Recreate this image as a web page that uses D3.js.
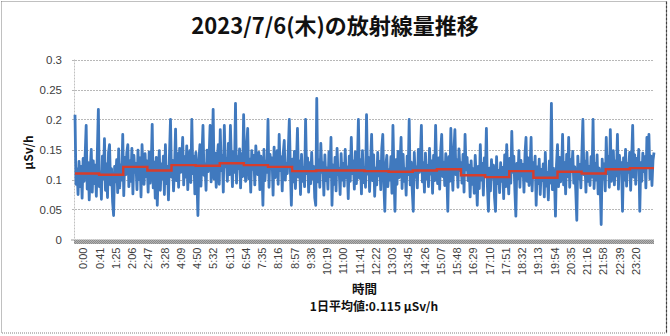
<!DOCTYPE html>
<html><head><meta charset="utf-8">
<script src="https://cdn.jsdelivr.net/npm/d3@7"></script>
<style>
html,body{margin:0;padding:0;background:#fff;}
svg{display:block;}
</style></head>
<body>
<script>
// ---- data ----
const title = "2023/7/6(木)の放射線量推移";
const yTicks = [0, 0.05, 0.1, 0.15, 0.2, 0.25, 0.3];
const tickLabels = ["0:00","0:41","1:25","2:06","2:47","3:28","4:09","4:50","5:32","6:13","6:54","7:35","8:16","8:57","9:38","10:19","11:00","11:41","12:22","13:03","13:45","14:26","15:07","15:48","16:29","17:10","17:51","18:32","19:13","19:54","20:35","21:16","21:58","22:39","23:20"];
const labelEvery = 16;
// readings (x 0.001 µSv/h), ~2.5 min apart
const readings = [
208,92,118,75,130,88,122,69,135,97,
141,190,84,128,66,117,150,79,131,93,
124,72,146,217,88,113,67,139,101,168,
82,126,70,145,158,91,118,63,40,122,
96,133,78,151,86,124,99,175,73,137,
108,145,158,88,131,97,152,76,140,112,
127,83,149,100,136,71,158,118,92,143,
105,131,79,146,94,120,192,86,129,69,
137,57,115,148,82,126,101,139,75,158,
93,122,66,141,200,104,132,81,119,184,
98,143,87,152,112,129,170,91,138,104,
156,83,127,148,95,200,110,139,76,145,
102,40,133,158,89,141,190,107,126,82,
149,113,137,190,96,128,217,101,144,87,
132,158,92,183,115,140,79,190,121,135,
97,160,108,190,129,88,147,112,227,94,
138,118,151,86,143,105,208,124,97,155,
185,101,134,79,148,117,140,91,156,126,
108,145,83,139,121,57,150,98,131,112,
200,87,142,119,136,74,154,103,129,148,
92,175,115,138,81,144,165,99,127,110,
150,200,118,57,134,96,147,85,126,185,
104,131,75,142,97,119,88,200,110,136,
79,128,93,145,101,122,70,57,235,96,
133,87,160,112,128,74,141,98,119,84,
146,105,170,57,124,92,137,81,152,108,
118,75,143,99,127,89,150,103,121,68,
139,97,170,110,131,84,146,93,125,200,
102,133,76,148,95,120,87,208,109,137,
80,128,175,98,141,72,119,91,145,106,
130,83,152,175,94,47,124,140,88,116,
99,138,77,190,110,47,133,92,147,103,
126,170,85,142,97,118,74,139,108,200,
91,129,82,47,145,104,121,86,150,112,
135,190,96,128,79,144,101,123,88,152,
109,131,77,140,98,190,117,93,136,84,
148,175,105,129,90,143,112,47,138,97,
185,121,82,146,183,108,133,87,151,115,
128,94,142,79,175,116,137,98,124,71,
131,92,118,77,140,103,57,122,85,158,
99,127,74,136,108,185,89,47,119,81,
133,102,124,70,47,138,93,115,78,128,
97,120,68,141,88,158,109,76,135,94,
180,112,139,83,39,127,101,148,87,132,
106,125,79,143,170,97,136,90,118,170,
81,128,104,139,57,121,93,134,75,117,
98,126,71,145,89,112,66,131,94,227,
83,119,102,39,124,158,88,137,96,110,
175,91,128,76,142,105,170,87,133,113,
147,94,121,80,32,139,101,125,86,143,
200,108,131,79,145,97,122,90,138,104,
200,85,127,99,141,76,119,93,25,134,
102,126,81,170,110,138,87,183,97,122,
148,91,131,106,175,84,140,115,128,47,
136,99,150,89,127,112,145,82,133,190,
104,141,92,135,118,150,47,128,97,144,
113,138,86,170,122,175,101,139,90,132,
145
];
// hourly averages (µSv/h)
const hourlyAvg = [0.110,0.108,0.121,0.115,0.124,0.123,0.127,0.124,0.121,0.114,0.115,0.115,0.114,0.113,0.115,0.117,0.107,0.104,0.114,0.103,0.113,0.110,0.117,0.119];
const yTitle = "μSv/h";
const xTitle = "時間";
const dailyNote = "1日平均値:0.115 μSv/h";

// ---- layout ----
const W = 670, H = 336;
const plot = {l: 75, r: 654, t: 59.5, b: 239.5};
const svg = d3.select("body").append("svg").attr("width", W).attr("height", H);

const defs = svg.append("defs");
const pat = defs.append("pattern").attr("id","floor").attr("width",2).attr("height",2).attr("patternUnits","userSpaceOnUse");
pat.append("rect").attr("width",2).attr("height",2).attr("fill","#b4b4b4");
pat.append("rect").attr("width",1).attr("height",1).attr("fill","#8a8a8a");
pat.append("rect").attr("x",1).attr("y",1).attr("width",1).attr("height",1).attr("fill","#8a8a8a");

// outer border
svg.append("rect").attr("x",1.5).attr("y",1.5).attr("width",665).attr("height",331.5)
  .attr("fill","none").attr("stroke","#808080").attr("stroke-width",1).attr("stroke-dasharray","1,1");
svg.append("line").attr("x1",666.5).attr("x2",666.5).attr("y1",1.5).attr("y2",333)
  .attr("stroke","#404040").attr("stroke-width",1.2).attr("stroke-dasharray","3,1");

const y = d3.scaleLinear().domain([0,0.3]).range([plot.b, plot.t]);
const x = d3.scaleLinear().domain([0, readings.length-1]).range([plot.l, plot.r]);
const xh = d3.scaleLinear().domain([0,24]).range([plot.l, plot.r]);

// gridlines
svg.append("g").selectAll("line").data(yTicks.filter(d=>d>0)).join("line")
  .attr("x1", plot.l-3).attr("x2", plot.r).attr("y1", d=>Math.round(y(d))+0.5).attr("y2", d=>Math.round(y(d))+0.5)
  .attr("stroke","#b8b8b8").attr("stroke-width",1).attr("stroke-dasharray","2,1");
// left axis (dotted)
svg.append("line").attr("x1",plot.l-0.5).attr("x2",plot.l-0.5).attr("y1",plot.t).attr("y2",plot.b)
  .attr("stroke","#c0c0c0").attr("stroke-dasharray","2,1");
// floor
svg.append("rect").attr("x",plot.l-1).attr("y",plot.b).attr("width",plot.r-plot.l+1).attr("height",4.5).attr("fill","url(#floor)");
svg.append("line").attr("x1",plot.l-4).attr("x2",plot.l-1).attr("y1",plot.b+0.5).attr("y2",plot.b+0.5).attr("stroke","#999");

// y tick labels
const yAxis = d3.axisLeft(y).tickValues(yTicks).tickSize(0).tickPadding(0).tickFormat(d=>d3.format("")(+d.toFixed(2)));
const yg = svg.append("g").attr("transform",`translate(${plot.l-13},0)`).call(yAxis);
yg.select(".domain").remove();
yg.selectAll("text").attr("font-family","Liberation Sans, Arial, sans-serif").attr("font-size",11.5).attr("fill","#404040");

// x tick labels (rotated)
const tickIdx = tickLabels.map((_,i)=>i*labelEvery);
const xAxis = d3.axisBottom(x).tickValues(tickIdx).tickSize(0).tickFormat((d,i)=>tickLabels[i]);
const xg = svg.append("g").attr("transform",`translate(8,${plot.b+8})`).call(xAxis);
xg.select(".domain").remove();
xg.selectAll("text").attr("font-family","Liberation Sans, Arial, sans-serif").attr("font-size",11).attr("fill","#404040")
  .attr("transform","rotate(-90)").attr("text-anchor","end").attr("x",0).attr("y",0).attr("dy","0.35em");

// blue readings line
svg.append("path").datum(readings)
  .attr("d", d3.line().x((d,i)=>x(i)).y(d=>y(d/1000)))
  .attr("fill","none").attr("stroke","#4079be").attr("stroke-width",2.8).attr("stroke-linejoin","round");

// red hourly step line
const stepPts = hourlyAvg.map((v,h)=>[h,v]).concat([[24, hourlyAvg[23]]]);
svg.append("path").datum(stepPts)
  .attr("d", d3.line().curve(d3.curveStepAfter).x(d=>xh(d[0])).y(d=>y(d[1])))
  .attr("fill","none").attr("stroke","#d63d2c").attr("stroke-width",2.4);

// titles
svg.append("text").attr("x",335).attr("y",34).attr("text-anchor","middle")
  .attr("font-family","Noto Sans CJK JP, sans-serif").attr("font-weight","bold").attr("font-size",22).attr("fill","#111")
  .text(title);
svg.append("text").attr("transform",`translate(33,${(plot.t+plot.b)/2+3}) rotate(-90)`).attr("text-anchor","middle")
  .attr("font-family","Noto Sans CJK JP, sans-serif").attr("font-weight","bold").attr("font-size",12).attr("fill","#111")
  .text(yTitle);
svg.append("text").attr("x",(plot.l+plot.r)/2).attr("y",294).attr("text-anchor","middle")
  .attr("font-family","Noto Sans CJK JP, sans-serif").attr("font-weight","bold").attr("font-size",12.5).attr("fill","#111")
  .text(xTitle);
svg.append("text").attr("x",374).attr("y",311).attr("text-anchor","middle")
  .attr("font-family","Noto Sans CJK JP, sans-serif").attr("font-weight","bold").attr("font-size",12).attr("fill","#111")
  .text(dailyNote);
</script>
</body></html>
